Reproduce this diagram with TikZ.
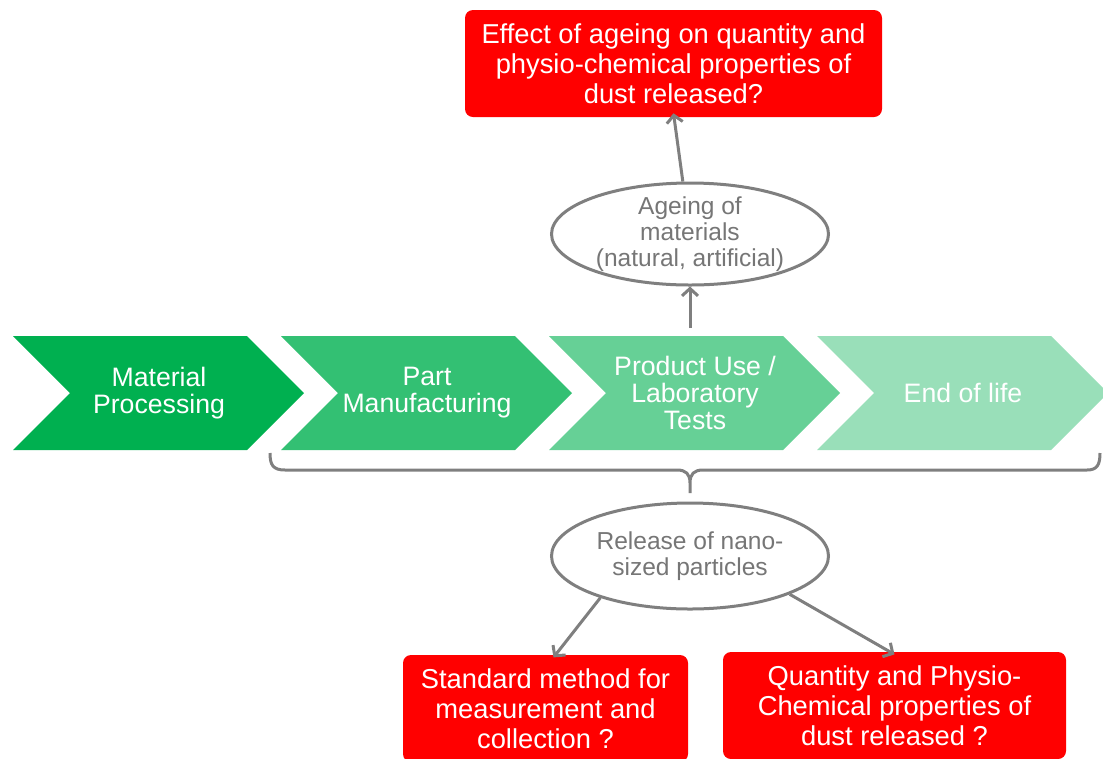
\documentclass[tikz,border=0pt]{standalone}
\usepackage{fontspec}
\setmainfont{Liberation Sans}
\usetikzlibrary{arrows.meta,shapes.geometric}
\definecolor{stagegreen}{RGB}{0,176,80}

\begin{document}
\begin{tikzpicture}[x=0.75pt,y=0.75pt,yscale=-1,xscale=1,
  qbox/.style={fill={rgb, 255:red, 255; green, 0; blue, 0},rounded corners=6pt,text=white,align=center,inner sep=0pt,minimum height=80.25pt,font=\fontsize{20.5}{22.5}\selectfont},
  oval/.style={ellipse,draw={rgb, 255:red, 127; green, 127; blue, 127},line width=2.25pt,fill=white,text={rgb, 255:red, 118; green, 118; blue, 118},align=center,inner xsep=0pt,inner ysep=-6pt,minimum width=207.75pt,font=\fontsize{18.4}{19.5}\selectfont},
  stagetxt/.style={text=white,align=center,font=\fontsize{20}{20.25}\selectfont},
  link/.style={draw={rgb, 255:red, 127; green, 127; blue, 127},line width=2.25pt,-{Straight Barb[length=5.5pt,width=12pt]}}
]
\useasboundingbox (0,0) rectangle (1103,758);

%Shape: Chevrons
\foreach \l/\op/\nm/\txt in {13/100/matproc/{Material\\Processing},281/80/partman/{Part\\Manufacturing},549/60/produse/{Product Use /\\Laboratory\\Tests},817/40/endlife/{End of life}} {
  \fill[stagegreen!\op] (\l,336) -- (\l+234,336) -- (\l+291,393) -- (\l+234,450) -- (\l,450) -- (\l+57,393) -- cycle ;
  \node[stagetxt] (\nm) at (\l+146,393) {\txt};
}

%Shape: Brace
\draw [color={rgb, 255:red, 127; green, 127; blue, 127},line width=2.25pt] (270,453) .. controls (270,465) and (273,470) .. (285,470) -- (677,470) .. controls (686,470) and (690,474) .. (690,483) -- (690,493) (690,483) .. controls (690,474) and (694,470) .. (703,470) -- (1087,470) .. controls (1097,470) and (1100,465) .. (1100,453) ;

%Questions and ellipses
\node[qbox,minimum width=312.75pt] (effect) at (673.5,63.5) {Effect of ageing on quantity and\\physio-chemical properties of\\dust released?};
\node[oval,minimum height=76.5pt] (ageing) at (690,234) {Ageing of\\materials\\(natural, artificial)};
\coordinate (usetop) at (690,328);
\node[oval,minimum height=79.5pt] (release) at (690,556) {Release of nano-\\sized particles};
\node[qbox,minimum width=213.75pt] (method) at (545.5,708.5) {Standard method for\\measurement and\\collection ?};
\node[qbox,minimum width=257.25pt] (quantity) at (894.5,705.5) {Quantity and Physio-\\Chemical properties of\\dust released ?};

%Straight Lines
\draw[link] (usetop) -- (ageing);
\draw[link] (ageing) -- ([yshift=-3pt]effect.south);
\draw[link] (release.205) -- ([xshift=6pt,yshift=2pt]method.north);
\draw[link] (release.339) -- ([yshift=2pt]quantity.north);

\end{tikzpicture}
\end{document}
